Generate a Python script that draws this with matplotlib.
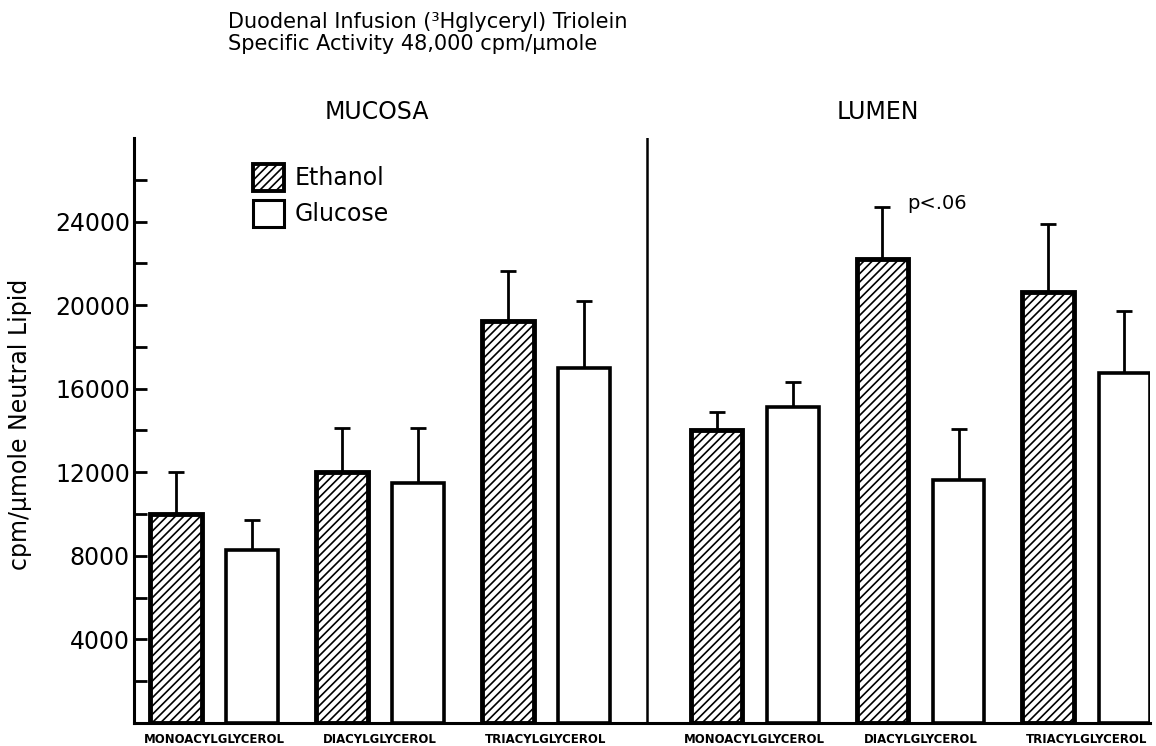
import matplotlib.pyplot as plt
import numpy as np
from matplotlib.patches import Patch
from matplotlib.transforms import blended_transform_factory

plt.rcParams['font.family'] = ['DejaVu Sans']
plt.rcParams['hatch.linewidth'] = 1.2

lipids = ["MONOACYLGLYCEROL", "DIACYLGLYCEROL", "TRIACYLGLYCEROL"]

# cpm/umole neutral lipid, mean and upper error (SE)
mucosa_ethanol = [10000, 12000, 19250]
mucosa_ethanol_err = [2000, 2100, 2400]
mucosa_glucose = [8300, 11500, 17000]
mucosa_glucose_err = [1400, 2600, 3200]

lumen_ethanol = [14000, 22200, 20650]
lumen_ethanol_err = [900, 2500, 3250]
lumen_glucose = [15100, 11650, 16750]
lumen_glucose_err = [1200, 2400, 2950]

fig = plt.figure(figsize=(11.56, 7.46), dpi=100)
ax = fig.add_axes([0.116, 0.031, 0.879, 0.784])

mucosa_x = np.arange(3)
lumen_x = 3.256 + np.arange(3)
off = 0.229
w = 0.313


def draw_pair(xc, eth, eth_err, glu, glu_err):
    ax.bar(xc - off, eth, w, facecolor="white", edgecolor="black",
           hatch="////", linewidth=3.5, zorder=3)
    ax.bar(xc + off, glu, w, facecolor="white", edgecolor="black",
           linewidth=2.6, zorder=3)
    for x, h, e in ((xc - off, eth, eth_err), (xc + off, glu, glu_err)):
        ax.errorbar(x, h, yerr=[np.zeros(3), e], fmt="none", ecolor="black",
                    elinewidth=2, capsize=6, capthick=2, zorder=2)


draw_pair(mucosa_x, mucosa_ethanol, mucosa_ethanol_err, mucosa_glucose, mucosa_glucose_err)
draw_pair(lumen_x, lumen_ethanol, lumen_ethanol_err, lumen_glucose, lumen_glucose_err)

ax.set_xlim(-0.482, 5.64)
ax.set_ylim(0, 28000)

# divider between mucosa and lumen panels
ax.axvline(2.61, color="black", linewidth=1.8)

ax.spines["top"].set_visible(False)
ax.spines["right"].set_visible(False)
ax.spines["left"].set_linewidth(2.2)
ax.spines["bottom"].set_linewidth(2.2)

ax.set_yticks(np.arange(4000, 28000, 4000))
ax.set_yticks(np.arange(2000, 28000, 4000), minor=True)
ax.tick_params(axis="y", which="both", direction="in", length=9, width=2,
               labelsize=17, pad=3)
ax.set_xticks([])

lab_tr = blended_transform_factory(ax.transData, fig.transFigure)
for xs in (mucosa_x, lumen_x):
    for x, name in zip(xs, lipids):
        ax.text(x, 0.004, name, ha="center", va="baseline", fontsize=9.4,
                fontweight="heavy", fontstretch="condensed",
                transform=lab_tr, clip_on=False)

ax.set_ylabel("cpm/\u00b5mole Neutral Lipid", fontsize=17)
ax.yaxis.set_label_coords(-0.1, 0.51)

ax.text(0.98, 1 - 112 / 746, "MUCOSA", ha="center", va="center", fontsize=17,
        transform=lab_tr, clip_on=False)
ax.text(4.0, 1 - 112 / 746, "LUMEN", ha="center", va="center", fontsize=17,
        transform=lab_tr, clip_on=False)

fig.text(0.197, 1 - 22 / 746, "Duodenal Infusion (\u00b3Hglyceryl) Triolein", fontsize=15,
         ha="left", va="center")
fig.text(0.197, 1 - 44 / 746, "Specific Activity 48,000 cpm/\u00b5mole", fontsize=15,
         ha="left", va="center")

ax.text(lumen_x[1] - off + 0.15, lumen_ethanol[1] + lumen_ethanol_err[1] + 150, "p<.06",
        fontsize=14, ha="left", va="center")

handles = [Patch(facecolor="white", edgecolor="black", hatch="////", linewidth=2.8, label="Ethanol"),
           Patch(facecolor="white", edgecolor="black", linewidth=2.2, label="Glucose")]
ax.legend(handles=handles, loc="upper left", bbox_to_anchor=(0.117, 0.955), frameon=False,
          fontsize=17, handlelength=1.3, handleheight=1.35, handletextpad=0.45,
          labelspacing=0.4, borderaxespad=0, borderpad=0)

fig.savefig("out.png", dpi=100)
